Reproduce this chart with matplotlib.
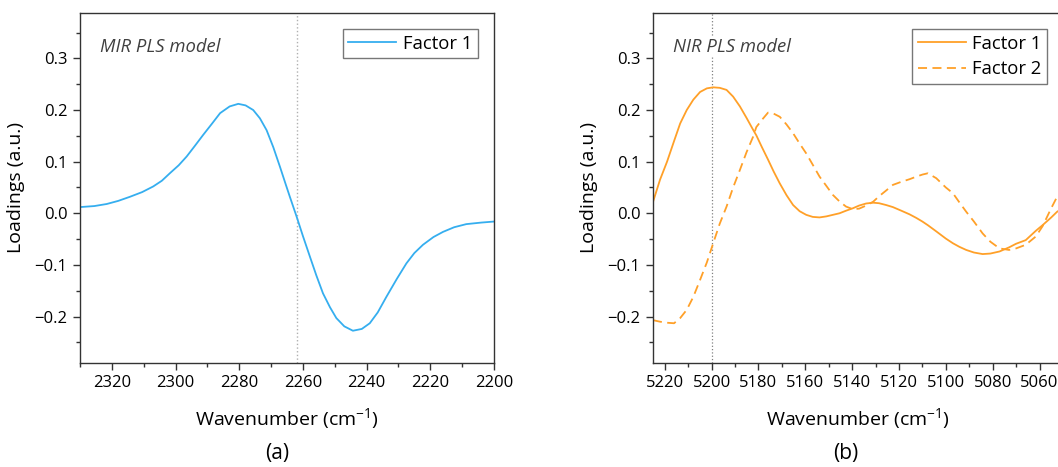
import matplotlib
matplotlib.use('Agg')
import matplotlib.pyplot as plt
from matplotlib.ticker import MultipleLocator

plt.rcParams['font.family'] = ['Open Sans', 'DejaVu Sans']
plt.rcParams['mathtext.fontset'] = 'custom'
plt.rcParams['mathtext.rm'] = 'Open Sans'

# MIR PLS model, factor 1
mir_wn = [2330, 2325.5, 2321.6, 2318, 2314.3, 2310.5, 2307, 2304.3, 2301.7, 2299, 2296.5,
          2294, 2291.3, 2288.5, 2286, 2283, 2280.3, 2278, 2275.6, 2273.5, 2271.4, 2269.3,
          2267.2, 2265.5, 2264.1, 2262, 2260, 2257.8, 2255.8, 2253.7, 2251.5, 2249.5,
          2247, 2244.3, 2241.5, 2239, 2236.5, 2233.8, 2230.5, 2227.5, 2225, 2222.3,
          2219, 2216, 2212.5, 2208.7, 2204, 2200]
mir_f1 = [0.012, 0.014, 0.018, 0.024, 0.032, 0.041, 0.052, 0.063, 0.078, 0.093, 0.11,
          0.13, 0.152, 0.174, 0.194, 0.207, 0.212, 0.209, 0.2, 0.184, 0.161, 0.128, 0.09,
          0.058, 0.032, -0.006, -0.044, -0.084, -0.12, -0.155, -0.182, -0.203, -0.219,
          -0.2275, -0.224, -0.213, -0.192, -0.162, -0.127, -0.097, -0.077, -0.061, -0.046,
          -0.036, -0.027, -0.021, -0.018, -0.016]

# NIR PLS model, factors 1 and 2
nir_wn = [5225, 5222, 5219, 5216, 5213.4, 5210.6, 5207.8, 5204.9, 5202, 5199.3, 5196.5,
          5193.6, 5190.8, 5187.9, 5185.1, 5182.3, 5180.9, 5178.5, 5175.9, 5173.5, 5170.9,
          5168, 5165.2, 5162.4, 5159.6, 5156.8, 5153.9, 5151, 5148.2, 5145.4, 5142.6,
          5139.7, 5137, 5134, 5131, 5128.5, 5125.5, 5122.6, 5119, 5115.5, 5112.6, 5110,
          5107.7, 5104.1, 5100, 5097, 5094.2, 5091.3, 5088, 5084.3, 5081, 5077.1, 5073,
          5070, 5065.9, 5061.6, 5058.7, 5055, 5052.5, 5050]
nir_f1 = [0.022, 0.065, 0.1, 0.14, 0.174, 0.2, 0.22, 0.235, 0.242, 0.244, 0.243, 0.239,
          0.226, 0.207, 0.185, 0.162, 0.151, 0.128, 0.104, 0.081, 0.058, 0.035, 0.016,
          0.004, -0.003, -0.007, -0.008, -0.006, -0.003, 0.0, 0.005, 0.0097, 0.015,
          0.019, 0.0205, 0.0195, 0.016, 0.012, 0.005, -0.002, -0.009, -0.016, -0.023,
          -0.035, -0.049, -0.058, -0.065, -0.071, -0.076, -0.079, -0.078, -0.074, -0.066,
          -0.059, -0.052, -0.034, -0.023, -0.008, 0.003, 0.01]
nir_f2 = [-0.207, -0.21, -0.212, -0.213, -0.203, -0.187, -0.162, -0.129, -0.095, -0.058,
          -0.02, 0.013, 0.05, 0.084, 0.118, 0.148, 0.167, 0.181, 0.195, 0.193, 0.187,
          0.172, 0.155, 0.135, 0.116, 0.094, 0.071, 0.053, 0.0355, 0.023, 0.013, 0.008,
          0.009, 0.015, 0.0225, 0.033, 0.044, 0.055, 0.061, 0.066, 0.071, 0.075, 0.0775,
          0.068, 0.05, 0.039, 0.021, 0.003, -0.016, -0.039, -0.055, -0.068, -0.071,
          -0.068, -0.061, -0.045, -0.025, 0.01, 0.032, 0.045]

blue = '#35aeef'
orange = '#ffa028'

fig = plt.figure(figsize=(10.58, 4.67), dpi=100)
ax1 = fig.add_axes([0.0756, 0.2227, 0.3913, 0.7495])
ax2 = fig.add_axes([0.6172, 0.2227, 0.3875, 0.7495])

ax1.plot(mir_wn, mir_f1, color=blue, lw=1.3, label='Factor 1')
ax1.axvline(2262, color='#b0b0b0', ls=':', lw=1.0, zorder=0)
ax1.set_xlim(2330, 2200)
ax1.xaxis.set_major_locator(MultipleLocator(20))
ax1.xaxis.set_minor_locator(MultipleLocator(10))

ax2.plot(nir_wn, nir_f1, color=orange, lw=1.3, label='Factor 1')
ax2.plot(nir_wn, nir_f2, color=orange, lw=1.3, ls=(0, (5, 3)), label='Factor 2')
ax2.axvline(5200, color='#808080', ls=':', lw=0.9, zorder=0)
ax2.set_xlim(5225, 5050)
ax2.xaxis.set_major_locator(MultipleLocator(20))
ax2.xaxis.set_minor_locator(MultipleLocator(10))

for ax, name, lab in [(ax1, 'MIR PLS model', '(a)'), (ax2, 'NIR PLS model', '(b)')]:
    ax.set_ylim(-0.29, 0.388)
    ax.yaxis.set_major_locator(MultipleLocator(0.1))
    ax.yaxis.set_minor_locator(MultipleLocator(0.05))
    ax.yaxis.set_major_formatter(plt.FuncFormatter(lambda v, p: f'{v:.1f}'.replace('-', '\u2212')))
    for s in ax.spines.values():
        s.set_color('#333333')
        s.set_linewidth(1.0)
    ax.tick_params(which='major', direction='out', length=5, width=1, color='#333333',
                   labelsize=12, pad=4)
    ax.tick_params(which='minor', direction='out', length=3, width=1, color='#333333')
    ax.set_ylabel('Loadings (a.u.)', fontsize=14, labelpad=7)
    ax.set_xlabel('Wavenumber (cm$^{-1}$)', fontsize=14, labelpad=11)
    ax.text(0.048, 0.889, name, transform=ax.transAxes, fontsize=13.3, style='italic',
            color='#404040', va='baseline', ha='left',
            bbox=dict(facecolor='white', edgecolor='none', pad=1))
    leg = ax.legend(loc='upper right', bbox_to_anchor=(0.961, 0.954), borderaxespad=0,
                    fontsize=13.3, frameon=True, fancybox=False, handlelength=2.6,
                    handletextpad=0.35, labelspacing=0.4, borderpad=0.3)
    leg.get_frame().set_edgecolor('#555555')
    leg.get_frame().set_linewidth(1.0)

fig.text(0.262, 0.018, '(a)', fontsize=15, ha='center', va='baseline')
fig.text(0.799, 0.018, '(b)', fontsize=15, ha='center', va='baseline')

fig.savefig('out.png', dpi=100)
